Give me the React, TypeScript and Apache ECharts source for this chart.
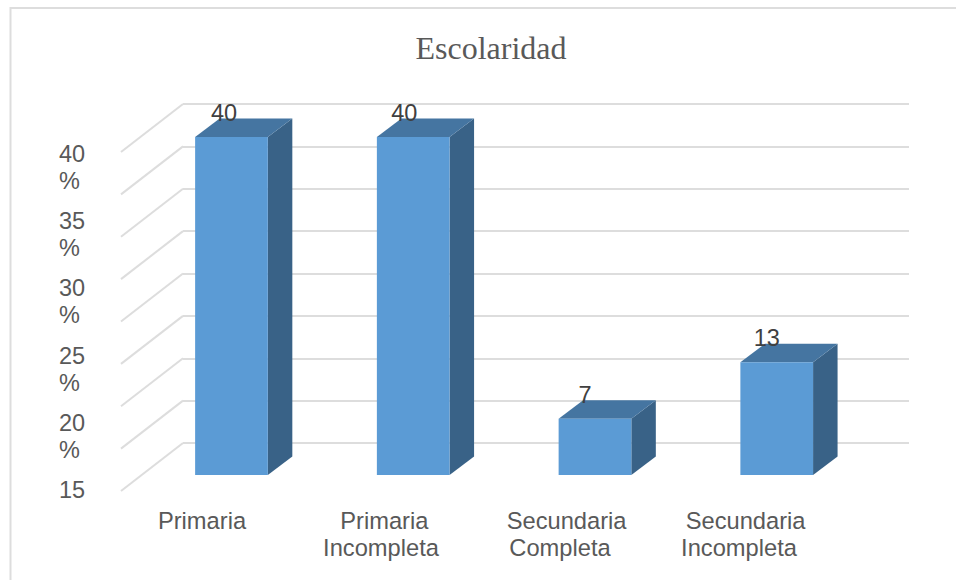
import React, { useEffect, useRef } from "react";
import * as echarts from "echarts";

const titleText = "Escolaridad";
const categories = ["Primaria", "Primaria\nIncompleta", "Secundaria\nCompleta", "Secundaria\nIncompleta"];
const categoryLabels = ["Primaria", " Primaria\nIncompleta", "  Secundaria\nCompleta", "  Secundaria\nIncompleta"];
const percentages = [40, 40, 6.67, 13.33];
const wallTicks = [0, 5, 10, 15, 20, 25, 30, 35, 40];
const labelOffsets = [-7.5, -9, -10, -10];

const FONT = '"Liberation Sans", Arial, sans-serif';
const GREY = "#595959";
const LINE = "#DDDDDD";

export default function App() {
  const ref = useRef<HTMLDivElement>(null);
  useEffect(() => {
    const chart = echarts.init(ref.current!, null, { renderer: "svg" });
    chart.setOption({
      animation: false,
      backgroundColor: "#ffffff",
      title: {
        text: titleText,
        left: 486,
        top: 27,
        textAlign: "center",
        textStyle: { fontFamily: '"Liberation Serif", serif', fontSize: 32, fontWeight: "normal", color: GREY },
      },
      graphic: [
        {
          type: "rect",
          silent: true,
          z: -1,
          shape: { x: 10.5, y: 8, width: 980, height: 620 },
          style: { fill: "none", stroke: LINE, lineWidth: 2 },
        },
      ],
      grid: [
        { left: 183, top: 104, width: 726, height: 339 },
        { left: 140.6, top: 137, width: 727, height: 338 },
        { left: 112.5, top: 140.5, width: 716, height: 336 },
      ],
      xAxis: [
        { gridIndex: 0, type: "category", data: categories, show: false },
        { gridIndex: 1, type: "category", data: categories, show: false },
        {
          gridIndex: 2,
          type: "category",
          data: categoryLabels,
          axisLine: { show: false },
          axisTick: { show: false },
          axisLabel: { margin: 31, fontFamily: FONT, fontSize: 23.7, lineHeight: 27, color: GREY, interval: 0 },
        },
      ],
      yAxis: [
        {
          gridIndex: 0,
          type: "value",
          min: 0,
          max: 40,
          interval: 5,
          axisLine: { show: false },
          axisTick: { show: false },
          axisLabel: { show: false },
          splitLine: { show: true, lineStyle: { color: LINE, width: 2 } },
        },
        { gridIndex: 1, type: "value", min: 0, max: 40, show: false },
        {
          gridIndex: 2,
          type: "value",
          min: 15,
          max: 40,
          interval: 5,
          axisLine: { show: false },
          axisTick: { show: false },
          splitLine: { show: false },
          axisLabel: {
            margin: 53.5,
            align: "left",
            verticalAlign: "top",
            fontFamily: FONT,
            fontSize: 23.5,
            lineHeight: 27,
            color: GREY,
            formatter: (v: number) => (v === 15 ? "15" : `${v}\n%`),
          },
        },
      ],
      series: [
        {
          type: "custom",
          xAxisIndex: 0,
          yAxisIndex: 0,
          silent: true,
          z: 1,
          data: wallTicks.map((t) => [0, t]),
          renderItem: (_p: any, api: any) => {
            const rect = _p.coordSys;
            const y = api.coord([categories[0], api.value(1)])[1];
            return {
              type: "line",
              shape: { x1: rect.x, y1: y, x2: rect.x - 62, y2: y + 48 },
              style: { stroke: LINE, lineWidth: 2, fill: "none" },
            };
          },
        },
        {
          type: "custom",
          xAxisIndex: 1,
          yAxisIndex: 1,
          silent: true,
          z: 3,
          data: percentages.map((v, i) => [i, v]),
          renderItem: (p: any, api: any) => {
            const [cx, top] = api.coord([api.value(0), api.value(1)]);
            const [, base] = api.coord([api.value(0), 0]);
            const w = api.size([1, 0])[0] * 0.4;
            const l = cx - w / 2;
            const r = cx + w / 2;
            const dx = 24.5;
            const dy = 18.5;
            return {
              type: "group",
              children: [
                {
                  type: "polygon",
                  shape: { points: [[r, top], [r + dx, top - dy], [r + dx, base - dy], [r, base]] },
                  style: { fill: "#396287" },
                },
                {
                  type: "polygon",
                  shape: { points: [[l, top], [l + dx, top - dy], [r + dx, top - dy], [r, top]] },
                  style: { fill: "#4575A1" },
                },
                { type: "rect", shape: { x: l, y: top, width: w, height: base - top }, style: { fill: "#5B9BD5" } },
                {
                  type: "text",
                  style: {
                    x: cx + labelOffsets[p.dataIndex],
                    y: top - 24,
                    text: String(Math.round(api.value(1))),
                    align: "center",
                    verticalAlign: "middle",
                    font: `23.5px ${FONT}`,
                    fill: "#404040",
                  },
                },
              ],
            };
          },
        },
        {
          type: "custom",
          xAxisIndex: 2,
          yAxisIndex: 2,
          silent: true,
          data: [],
          renderItem: () => null,
        },
      ],
    });
    return () => chart.dispose();
  }, []);
  return <div ref={ref} style={{ position: "absolute", left: 0, top: 0, width: 956, height: 580 }} />;
}
